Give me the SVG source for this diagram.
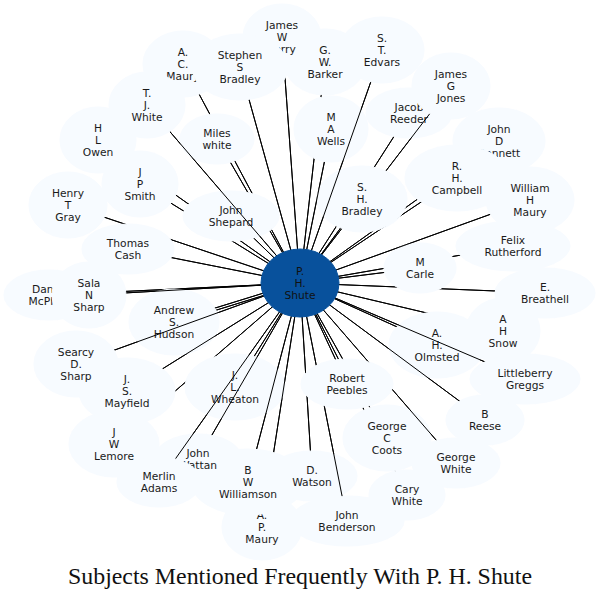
<svg xmlns="http://www.w3.org/2000/svg" xmlns:xlink="http://www.w3.org/1999/xlink" width="600" height="598" viewBox="0 0 600 598">
<style>
.node ellipse{fill:#f7fbff;stroke:#f7fbff;stroke-width:1}
.node text{font-family:"DejaVu Sans",Verdana,sans-serif;font-size:10.7px;fill:#1a1a1a;text-anchor:middle}
#n-shute ellipse{fill:#08519c;stroke:#08519c}
#n-shute text{fill:#111}
.edge{stroke:#000;stroke-width:1;fill:none}
.title{font-family:"Liberation Serif","Times New Roman",serif;font-size:23.5px;fill:#111;text-anchor:middle}
</style>
<rect width="600" height="598" fill="#fff"/>
<g id="edges">
<line id="e-barker" class="edge" x1="300" y1="283" x2="325" y2="62"/>
<line id="e-perry" class="edge" x1="300" y1="283" x2="282" y2="37"/>
<line id="e-acmaury" class="edge" x1="300" y1="283" x2="183" y2="64"/>
<line id="e-stephen" class="edge" x1="300" y1="283" x2="240" y2="67"/>
<line id="e-miles" class="edge" x1="300" y1="283" x2="217" y2="139"/>
<line id="e-owen" class="edge" x1="300" y1="283" x2="98" y2="140"/>
<line id="e-smith" class="edge" x1="300" y1="283" x2="140" y2="184"/>
<line id="e-shepard" class="edge" x1="300" y1="283" x2="231" y2="216"/>
<line id="e-tjwhite" class="edge" x1="300" y1="283" x2="147" y2="105"/>
<line id="e-gray" class="edge" x1="300" y1="283" x2="68" y2="205"/>
<line id="e-cash" class="edge" x1="300" y1="283" x2="128" y2="249"/>
<line id="e-dan" class="edge" x1="300" y1="283" x2="50" y2="295"/>
<g id="e-hudson"><line class="edge" x1="299.6" y1="281.9" x2="173.6" y2="320.9"/><line class="edge" x1="300.4" y1="284.1" x2="174.4" y2="323.1"/></g>
<line id="e-sala" class="edge" x1="300" y1="283" x2="89" y2="295"/>
<line id="e-lemore" class="edge" x1="300" y1="283" x2="114" y2="444"/>
<line id="e-mayfield" class="edge" x1="300" y1="283" x2="127" y2="391"/>
<line id="e-searcy" class="edge" x1="300" y1="283" x2="76" y2="364"/>
<line id="e-wheaton" class="edge" x1="300" y1="283" x2="235" y2="387"/>
<line id="e-apmaury" class="edge" x1="300" y1="283" x2="262" y2="527"/>
<line id="e-williamson" class="edge" x1="300" y1="283" x2="248" y2="482"/>
<line id="e-wattan" class="edge" x1="300" y1="283" x2="198" y2="459"/>
<line id="e-merlin" class="edge" x1="300" y1="283" x2="159" y2="482"/>
<line id="e-watson" class="edge" x1="300" y1="283" x2="312" y2="476"/>
<line id="e-benderson" class="edge" x1="300" y1="283" x2="347" y2="521"/>
<line id="e-cary" class="edge" x1="300" y1="283" x2="407" y2="495"/>
<line id="e-coots" class="edge" x1="300" y1="283" x2="387" y2="438"/>
<line id="e-gwhite" class="edge" x1="300" y1="283" x2="456" y2="463"/>
<line id="e-peebles" class="edge" x1="300" y1="283" x2="347" y2="384"/>
<line id="e-snow" class="edge" x1="300" y1="283" x2="503" y2="331"/>
<line id="e-olmsted" class="edge" x1="300" y1="283" x2="437" y2="345"/>
<line id="e-reese" class="edge" x1="300" y1="283" x2="485" y2="420"/>
<line id="e-greggs" class="edge" x1="300" y1="283" x2="525" y2="379"/>
<line id="e-breathell" class="edge" x1="300" y1="283" x2="545" y2="293"/>
<line id="e-felix" class="edge" x1="300" y1="283" x2="513" y2="246"/>
<line id="e-carle" class="edge" x1="300" y1="283" x2="420" y2="268"/>
<line id="e-wmaury" class="edge" x1="300" y1="283" x2="530" y2="200"/>
<line id="e-bennett" class="edge" x1="300" y1="283" x2="499" y2="141"/>
<line id="e-campbell" class="edge" x1="300" y1="283" x2="457" y2="178"/>
<line id="e-reeder" class="edge" x1="300" y1="283" x2="409" y2="113"/>
<line id="e-jones" class="edge" x1="300" y1="283" x2="451" y2="86"/>
<line id="e-shbradley" class="edge" x1="300" y1="283" x2="362" y2="199"/>
<line id="e-wells" class="edge" x1="300" y1="283" x2="331" y2="129"/>
<line id="e-edvars" class="edge" x1="300" y1="283" x2="382" y2="50"/>
</g>

<use href="#e-barker"/>
<g id="n-barker" class="node"><ellipse cx="325" cy="62" rx="41" ry="33"/><text x="325" y="54">G.</text><text x="325" y="66">W.</text><text x="325" y="78">Barker</text></g>
<use href="#e-perry"/>
<g id="n-perry" class="node"><ellipse cx="282" cy="37" rx="39" ry="33"/><text x="282" y="29">James</text><text x="282" y="41">W</text><text x="282" y="53">Perry</text></g>
<use href="#e-acmaury"/>
<g id="n-acmaury" class="node"><ellipse cx="183" cy="64" rx="40" ry="33"/><text x="183" y="56">A.</text><text x="183" y="68">C.</text><text x="183" y="80">Maury</text></g>
<use href="#e-stephen"/>
<g id="n-stephen" class="node"><ellipse cx="240" cy="67" rx="48" ry="33"/><text x="240" y="59">Stephen</text><text x="240" y="71">S</text><text x="240" y="83">Bradley</text></g>
<use href="#e-miles"/>
<g id="n-miles" class="node"><ellipse cx="217" cy="139" rx="37" ry="25"/><text x="217" y="137">Miles</text><text x="217" y="149">white</text></g>
<use href="#e-owen"/>
<g id="n-owen" class="node"><ellipse cx="98" cy="140" rx="38" ry="33"/><text x="98" y="132">H</text><text x="98" y="144">L</text><text x="98" y="156">Owen</text></g>
<use href="#e-smith"/>
<g id="n-smith" class="node"><ellipse cx="140" cy="184" rx="38" ry="33"/><text x="140" y="176">J</text><text x="140" y="188">P</text><text x="140" y="200">Smith</text></g>
<use href="#e-shepard"/>
<g id="n-shepard" class="node"><ellipse cx="231" cy="216" rx="48" ry="25"/><text x="231" y="214">John</text><text x="231" y="226">Shepard</text></g>
<use href="#e-tjwhite"/>
<g id="n-tjwhite" class="node"><ellipse cx="147" cy="105" rx="38" ry="33"/><text x="147" y="97">T.</text><text x="147" y="109">J.</text><text x="147" y="121">White</text></g>
<use href="#e-gray"/>
<g id="n-gray" class="node"><ellipse cx="68" cy="205" rx="39" ry="33"/><text x="68" y="197">Henry</text><text x="68" y="209">T</text><text x="68" y="221">Gray</text></g>
<use href="#e-cash"/>
<g id="n-cash" class="node"><ellipse cx="128" cy="249" rx="46" ry="25"/><text x="128" y="247">Thomas</text><text x="128" y="259">Cash</text></g>
<use href="#e-dan"/>
<g id="n-dan" class="node"><ellipse cx="49" cy="295" rx="45" ry="25"/><text x="49" y="293">Daniel</text><text x="49" y="305">McPhail</text></g>
<use href="#e-hudson"/>
<g id="n-hudson" class="node"><ellipse cx="174" cy="322" rx="45" ry="33"/><text x="174" y="314">Andrew</text><text x="174" y="326">S.</text><text x="174" y="338">Hudson</text></g>
<use href="#e-sala"/>
<g id="n-sala" class="node"><ellipse cx="89" cy="295" rx="37" ry="33"/><text x="89" y="287">Sala</text><text x="89" y="299">N</text><text x="89" y="311">Sharp</text></g>
<use href="#e-lemore"/>
<g id="n-lemore" class="node"><ellipse cx="114" cy="444" rx="45" ry="33"/><text x="114" y="436">J</text><text x="114" y="448">W</text><text x="114" y="460">Lemore</text></g>
<use href="#e-mayfield"/>
<g id="n-mayfield" class="node"><ellipse cx="127" cy="391" rx="48" ry="33"/><text x="127" y="383">J.</text><text x="127" y="395">S.</text><text x="127" y="407">Mayfield</text></g>
<use href="#e-searcy"/>
<g id="n-searcy" class="node"><ellipse cx="76" cy="364" rx="42" ry="33"/><text x="76" y="356">Searcy</text><text x="76" y="368">D.</text><text x="76" y="380">Sharp</text></g>
<use href="#e-wheaton"/>
<g id="n-wheaton" class="node"><ellipse cx="235" cy="387" rx="50" ry="33"/><text x="235" y="379">J.</text><text x="235" y="391">L.</text><text x="235" y="403">Wheaton</text></g>
<use href="#e-apmaury"/>
<g id="n-apmaury" class="node"><ellipse cx="262" cy="527" rx="40" ry="33"/><text x="262" y="519">A.</text><text x="262" y="531">P.</text><text x="262" y="543">Maury</text></g>
<use href="#e-williamson"/>
<g id="n-williamson" class="node"><ellipse cx="248" cy="482" rx="57" ry="33"/><text x="248" y="474">B</text><text x="248" y="486">W</text><text x="248" y="498">Williamson</text></g>
<use href="#e-wattan"/>
<g id="n-wattan" class="node"><ellipse cx="198" cy="459" rx="44" ry="25"/><text x="198" y="457">John</text><text x="198" y="469">Wattan</text></g>
<use href="#e-merlin"/>
<g id="n-merlin" class="node"><ellipse cx="159" cy="482" rx="42" ry="25"/><text x="159" y="480">Merlin</text><text x="159" y="492">Adams</text></g>
<use href="#e-watson"/>
<g id="n-watson" class="node"><ellipse cx="312" cy="476" rx="45" ry="25"/><text x="312" y="474">D.</text><text x="312" y="486">Watson</text></g>
<use href="#e-benderson"/>
<g id="n-benderson" class="node"><ellipse cx="347" cy="521" rx="57" ry="25"/><text x="347" y="519">John</text><text x="347" y="531">Benderson</text></g>
<use href="#e-cary"/>
<g id="n-cary" class="node"><ellipse cx="407" cy="495" rx="38" ry="25"/><text x="407" y="493">Cary</text><text x="407" y="505">White</text></g>
<use href="#e-coots"/>
<g id="n-coots" class="node"><ellipse cx="387" cy="438" rx="44" ry="33"/><text x="387" y="430">George</text><text x="387" y="442">C</text><text x="387" y="454">Coots</text></g>
<use href="#e-gwhite"/>
<g id="n-gwhite" class="node"><ellipse cx="456" cy="463" rx="44" ry="25"/><text x="456" y="461">George</text><text x="456" y="473">White</text></g>
<use href="#e-peebles"/>
<g id="n-peebles" class="node"><ellipse cx="347" cy="384" rx="46" ry="25"/><text x="347" y="382">Robert</text><text x="347" y="394">Peebles</text></g>
<use href="#e-snow"/>
<g id="n-snow" class="node"><ellipse cx="503" cy="331" rx="37" ry="33"/><text x="503" y="323">A</text><text x="503" y="335">H</text><text x="503" y="347">Snow</text></g>
<use href="#e-olmsted"/>
<g id="n-olmsted" class="node"><ellipse cx="437" cy="345" rx="48" ry="33"/><text x="437" y="337">A.</text><text x="437" y="349">H.</text><text x="437" y="361">Olmsted</text></g>
<use href="#e-reese"/>
<g id="n-reese" class="node"><ellipse cx="485" cy="420" rx="39" ry="25"/><text x="485" y="418">B</text><text x="485" y="430">Reese</text></g>
<use href="#e-greggs"/>
<g id="n-greggs" class="node"><ellipse cx="525" cy="379" rx="55" ry="25"/><text x="525" y="377">Littleberry</text><text x="525" y="389">Greggs</text></g>
<use href="#e-breathell"/>
<g id="n-breathell" class="node"><ellipse cx="545" cy="293" rx="50" ry="25"/><text x="545" y="291">E.</text><text x="545" y="303">Breathell</text></g>
<use href="#e-felix"/>
<g id="n-felix" class="node"><ellipse cx="513" cy="246" rx="57" ry="25"/><text x="513" y="244">Felix</text><text x="513" y="256">Rutherford</text></g>
<use href="#e-carle"/>
<g id="n-carle" class="node"><ellipse cx="420" cy="268" rx="36" ry="25"/><text x="420" y="266">M</text><text x="420" y="278">Carle</text></g>
<use href="#e-wmaury"/>
<g id="n-wmaury" class="node"><ellipse cx="530" cy="200" rx="44" ry="33"/><text x="530" y="192">William</text><text x="530" y="204">H</text><text x="530" y="216">Maury</text></g>
<use href="#e-bennett"/>
<g id="n-bennett" class="node"><ellipse cx="499" cy="141" rx="46" ry="33"/><text x="499" y="133">John</text><text x="499" y="145">D</text><text x="499" y="157">Bennett</text></g>
<use href="#e-campbell"/>
<g id="n-campbell" class="node"><ellipse cx="457" cy="178" rx="52" ry="33"/><text x="457" y="170">R.</text><text x="457" y="182">H.</text><text x="457" y="194">Campbell</text></g>
<use href="#e-reeder"/>
<g id="n-reeder" class="node"><ellipse cx="409" cy="113" rx="43" ry="25"/><text x="409" y="111">Jacob</text><text x="409" y="123">Reeder</text></g>
<use href="#e-jones"/>
<g id="n-jones" class="node"><ellipse cx="451" cy="86" rx="39" ry="33"/><text x="451" y="78">James</text><text x="451" y="90">G</text><text x="451" y="102">Jones</text></g>
<use href="#e-shbradley"/>
<g id="n-shbradley" class="node"><ellipse cx="362" cy="199" rx="45" ry="33"/><text x="362" y="191">S.</text><text x="362" y="203">H.</text><text x="362" y="215">Bradley</text></g>
<use href="#e-wells"/>
<g id="n-wells" class="node"><ellipse cx="331" cy="129" rx="37" ry="33"/><text x="331" y="121">M</text><text x="331" y="133">A</text><text x="331" y="145">Wells</text></g>
<use href="#e-edvars"/>
<g id="n-edvars" class="node"><ellipse cx="382" cy="50" rx="42" ry="33"/><text x="382" y="42">S.</text><text x="382" y="54">T.</text><text x="382" y="66">Edvars</text></g>
<g id="n-shute" class="node"><ellipse cx="300" cy="283" rx="39" ry="34"/><text x="300" y="275">P.</text><text x="300" y="287">H.</text><text x="300" y="299">Shute</text></g>

<text class="title" x="300" y="584" textLength="464" lengthAdjust="spacingAndGlyphs">Subjects Mentioned Frequently With P. H. Shute</text>
</svg>
